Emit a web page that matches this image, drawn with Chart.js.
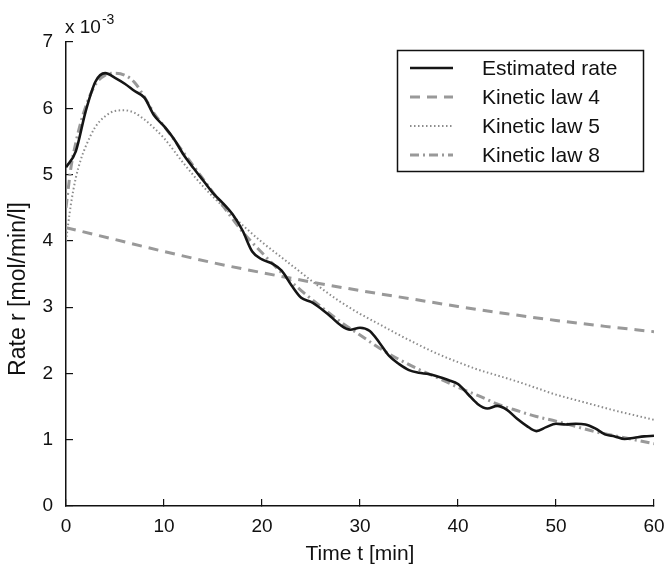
<!DOCTYPE html>
<html>
<head>
<meta charset="utf-8">
<script src="https://cdn.jsdelivr.net/npm/chart.js@4"></script>
<style>
  html, body { margin: 0; padding: 0; background: #fff; }
</style>
</head>
<body>
<canvas id="rate-chart" width="666" height="564"></canvas>
<script>
// Estimated rate, read every minute off the figure (x 10^-3 mol/min/l)
const timeEstimated = [0, 1, 2, 3, 4, 5, 6, 7, 8, 9, 10, 11, 12, 13, 14, 15, 16, 17, 18, 19, 20,
  21, 22, 23, 24, 25, 26, 27, 28, 29, 30, 31, 32, 33, 34, 35, 36, 37, 38, 39, 40,
  41, 42, 43, 44, 45, 46, 47, 48, 49, 50, 51, 52, 53, 54, 55, 56, 57, 58, 59, 60];
const rateEstimated = [5.11, 5.35, 5.95, 6.40, 6.53, 6.46, 6.37, 6.26, 6.16, 5.89, 5.73, 5.54, 5.30, 5.10, 4.91, 4.72, 4.57, 4.40, 4.16, 3.84, 3.72,
  3.66, 3.55, 3.33, 3.14, 3.08, 2.98, 2.86, 2.73, 2.66, 2.69, 2.64, 2.46, 2.26, 2.14, 2.05, 2.01, 1.99, 1.95, 1.90, 1.84,
  1.69, 1.54, 1.47, 1.51, 1.45, 1.32, 1.21, 1.13, 1.19, 1.24, 1.23, 1.24, 1.23, 1.17, 1.08, 1.05, 1.01, 1.03, 1.05, 1.06];

// Kinetic law 4 (smooth decay)
const timeLaw4 = [0, 5, 10, 15, 20, 25, 30, 35, 40, 45, 50, 55, 60];
const rateLaw4 = [4.20, 4.02, 3.84, 3.67, 3.52, 3.38, 3.25, 3.13, 3.01, 2.90, 2.80, 2.71, 2.63];

// Kinetic laws 5 and 8 share one time grid
const timeModel = [0, 0.5, 1, 1.5, 2, 3, 4, 5, 6, 7, 8, 9, 10, 12, 14, 16, 18, 20, 22, 24, 26, 28, 30,
  32, 34, 36, 38, 40, 42, 44, 46, 48, 50, 52, 54, 56, 58, 60];
const rateLaw5 = [4.00, 4.55, 4.95, 5.22, 5.42, 5.72, 5.88, 5.96, 5.97, 5.93, 5.83, 5.70, 5.55, 5.17, 4.82, 4.52, 4.24, 3.98, 3.75, 3.52, 3.29, 3.08, 2.90,
  2.74, 2.58, 2.43, 2.29, 2.17, 2.06, 1.97, 1.88, 1.78, 1.68, 1.60, 1.52, 1.44, 1.37, 1.30];
const rateLaw8 = [4.50, 5.10, 5.48, 5.78, 6.02, 6.36, 6.50, 6.53, 6.50, 6.39, 6.17, 5.92, 5.73, 5.33, 4.93, 4.53, 4.14, 3.82, 3.52, 3.25, 3.01, 2.78, 2.58,
  2.38, 2.21, 2.06, 1.93, 1.79, 1.67, 1.54, 1.44, 1.35, 1.28, 1.20, 1.12, 1.06, 1.00, 0.94];

const seriesLabels = ['Estimated rate', 'Kinetic law 4', 'Kinetic law 5', 'Kinetic law 8'];
const xTicks = [0, 10, 20, 30, 40, 50, 60];
const yTicks = [0, 1, 2, 3, 4, 5, 6, 7];

const FONT = '"Liberation Sans", Arial, Helvetica, sans-serif';
const GREY = '#999';

function toPoints(times, values) {
  return times.map((t, i) => ({ x: t, y: values[i] }));
}

// no extra padding from the tick labels, the plot box is placed by hand
function noScalePadding(scale) {
  scale.paddingLeft = 0;
  scale.paddingRight = 0;
  scale.paddingTop = 0;
  scale.paddingBottom = 0;
}

// legend box, y label and the "x 10^-3" exponent, drawn by hand like the matlab figure
const figureExtras = {
  id: 'figureExtras',
  afterDraw(chart) {
    const ctx = chart.ctx;
    ctx.save();
    ctx.fillStyle = '#fff';
    ctx.fillRect(397, 50, 247, 122);
    ctx.lineWidth = 1.5;
    ctx.strokeStyle = '#111';
    ctx.strokeRect(397.5, 50.5, 246, 121);

    chart.data.datasets.forEach((ds, i) => {
      const y = 68 + i * 29;
      ctx.beginPath();
      ctx.setLineDash(ds.borderDash || []);
      ctx.lineWidth = ds.borderWidth;
      ctx.strokeStyle = ds.borderColor;
      ctx.moveTo(410, y);
      ctx.lineTo(453, y);
      ctx.stroke();
      ctx.setLineDash([]);
      ctx.fillStyle = '#111';
      ctx.font = '21px ' + FONT;
      ctx.textBaseline = 'middle';
      ctx.fillText(ds.label, 482, y + 1);
    });

    ctx.fillStyle = '#111';
    ctx.textBaseline = 'alphabetic';
    ctx.font = '19px ' + FONT;
    ctx.fillText('x 10', 65, 33);
    const w = ctx.measureText('x 10').width;
    ctx.font = '14px ' + FONT;
    ctx.fillText('-3', 65 + w + 1, 24);

    // y axis label sits a bit below the middle of the axis in the original
    ctx.translate(19, 289);
    ctx.rotate(-Math.PI / 2);
    ctx.font = '23px ' + FONT;
    ctx.textAlign = 'center';
    ctx.textBaseline = 'middle';
    ctx.fillText('Rate r [mol/min/l]', 0, 0);
    ctx.restore();
  }
};

const ctx = document.getElementById('rate-chart').getContext('2d');
const rateChart = new Chart(ctx, {
  type: 'line',
  data: {
    datasets: [
      {
        label: seriesLabels[0],
        data: toPoints(timeEstimated, rateEstimated),
        borderColor: '#151515',
        borderWidth: 2.6,
        borderDash: [],
      },
      {
        label: seriesLabels[1],
        data: toPoints(timeLaw4, rateLaw4),
        borderColor: GREY,
        borderWidth: 3,
        borderDash: [10, 7],
      },
      {
        label: seriesLabels[2],
        data: toPoints(timeModel, rateLaw5),
        borderColor: '#8c8c8c',
        borderWidth: 2,
        borderDash: [1.5, 2.5],
      },
      {
        label: seriesLabels[3],
        data: toPoints(timeModel, rateLaw8),
        borderColor: GREY,
        borderWidth: 3,
        borderDash: [9, 4, 2, 4],
      },
    ],
  },
  options: {
    responsive: false,
    animation: false,
    elements: {
      point: { radius: 0 },
      line: { cubicInterpolationMode: 'monotone', fill: false },
    },
    layout: { padding: { top: 42, right: 12, left: 0, bottom: 0 } },
    plugins: {
      legend: { display: false },
      tooltip: { enabled: false },
    },
    scales: {
      x: {
        type: 'linear',
        min: 0,
        max: 60,
        afterBuildTicks: (scale) => { scale.ticks = xTicks.map((v) => ({ value: v })); },
        afterFit: (scale) => { scale.height = 58; noScalePadding(scale); },
        grid: { drawOnChartArea: false, tickLength: -7, color: '#111', lineWidth: 1.2 },
        border: { color: '#111', width: 1.5 },
        ticks: { color: '#111', padding: 16, font: { family: FONT, size: 19 } },
        title: {
          display: true,
          text: 'Time t [min]',
          color: '#111',
          font: { family: FONT, size: 21, lineHeight: 0.9 },
          padding: { top: 0, bottom: 0 },
        },
      },
      y: {
        type: 'linear',
        min: 0,
        max: 7,
        afterBuildTicks: (scale) => { scale.ticks = yTicks.map((v) => ({ value: v })); },
        afterFit: (scale) => { scale.width = 66; noScalePadding(scale); },
        grid: { drawOnChartArea: false, tickLength: -7, color: '#111', lineWidth: 1.2 },
        border: { color: '#111', width: 1.5 },
        ticks: { color: '#111', padding: 20, font: { family: FONT, size: 19 } },
        title: { display: false },
      },
    },
  },
  plugins: [figureExtras],
});
</script>
</body>
</html>
